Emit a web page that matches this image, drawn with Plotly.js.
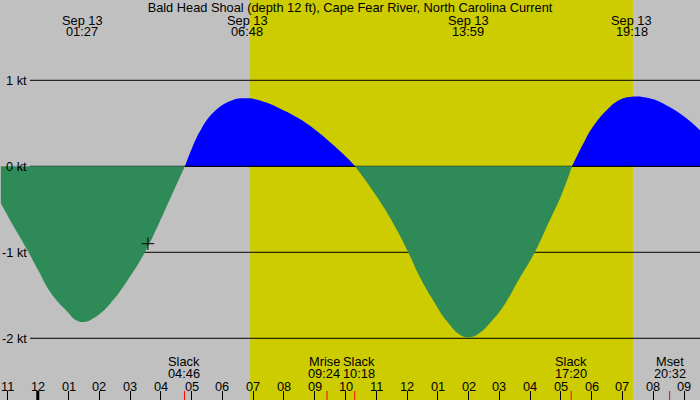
<!DOCTYPE html>
<html>
<head>
<meta charset="utf-8">
<script src="https://cdn.plot.ly/plotly-3.0.1.min.js"></script>
<style>html,body{margin:0;padding:0;background:#c0c0c0;}#chart{width:700px;height:400px;}</style>
</head>
<body>
<div id="chart"></div>
<script>
// Hours relative to midnight Sep 13 (negative = Sep 12), current in knots
const hours = [-1.20,-0.77,-0.33,0.00,0.42,0.96,1.25,1.50,1.75,2.04,2.37,2.91,3.45,3.88,4.31,4.78,
  5.02,5.29,5.72,6.26,6.80,7.34,7.88,8.42,8.96,9.50,10.05,10.31,
  10.80,11.23,11.67,12.04,12.42,12.85,13.29,13.72,13.98,14.31,14.75,15.18,15.61,16.15,16.58,17.02,17.36,
  17.72,18.04,18.48,18.90,19.30,19.88,20.42,20.96,21.52];
const knots = [-0.43,-0.71,-0.98,-1.20,-1.47,-1.69,-1.79,-1.81,-1.78,-1.71,-1.59,-1.33,-1.02,-0.71,-0.37,0,
  0.22,0.42,0.63,0.76,0.79,0.75,0.67,0.57,0.44,0.28,0.10,0,
  -0.24,-0.47,-0.74,-1.00,-1.29,-1.56,-1.80,-1.96,-1.99,-1.95,-1.80,-1.60,-1.33,-1.00,-0.67,-0.33,0,
  0.26,0.46,0.65,0.77,0.81,0.79,0.71,0.59,0.42];

const maxHours = [1.45, 6.80, 13.983, 19.30];
const maxDates = ["Sep 13","Sep 13","Sep 13","Sep 13"];
const maxTimes = ["01:27","06:48","13:59","19:18"];

const eventHours = [4.767, 9.40, 10.30, 17.333, 20.533];
const eventNames = ["Slack","Mrise","Slack","Slack","Mset"];
const eventTimes = ["04:46","09:24","10:18","17:20","20:32"];

const tickHours = [-1,0,1,2,3,4,5,6,7,8,9,10,11,12,13,14,15,16,17,18,19,20,21];
const tickLabels = ["11","12","01","02","03","04","05","06","07","08","09","10","11","12","01","02","03","04","05","06","07","08","09"];

const yTicks = [1,0,-1,-2];
const yLabels = ["1 kt","0 kt","-1 kt","-2 kt"];

const sunrise = 6.90, sunset = 19.34;
const nowHour = [3.58], nowKnots = [-0.90];

const W = 700, H = 400;
const FONT = "Liberation Sans, Arial, sans-serif";
const FS = 12.8;
const py = p => 1 - p / H;

// split curve into ebb/flood lobes
const segs = [];
let cur = {x: [], y: [], sign: 0};
for (let i = 0; i < hours.length; i++) {
  const v = knots[i], s = Math.sign(v);
  if (s === 0) {
    cur.x.push(hours[i]); cur.y.push(0);
    if (cur.sign !== 0) { segs.push(cur); cur = {x: [hours[i]], y: [0], sign: 0}; }
  } else {
    if (cur.sign === 0) cur.sign = s;
    cur.x.push(hours[i]); cur.y.push(v);
  }
}
if (cur.x.length > 1) segs.push(cur);

const traces = segs.map(s => ({
  x: s.x, y: s.y, type: 'scatter', mode: 'lines',
  line: {width: 0, shape: 'spline', smoothing: 1.3},
  fill: 'tozeroy', fillcolor: s.sign < 0 ? '#2e8b57' : '#0000ff',
  hoverinfo: 'skip', showlegend: false
}));

// zero line visible under flood lobes
const zx = [], zy = [];
segs.filter(s => s.sign > 0).forEach(s => { zx.push(s.x[0], s.x[s.x.length - 1], null); zy.push(0, 0, null); });
traces.push({x: zx, y: zy, type: 'scatter', mode: 'lines', line: {color: '#000', width: 1}, hoverinfo: 'skip', showlegend: false});

traces.push({x: nowHour, y: nowKnots, type: 'scatter', mode: 'markers',
  marker: {symbol: 'cross-thin', size: 9, line: {color: '#000', width: 1}, color: '#000'},
  hoverinfo: 'skip', showlegend: false});

const shapes = [];
shapes.push({type: 'rect', xref: 'x', yref: 'paper', x0: sunrise, x1: sunset, y0: 0, y1: 1,
  fillcolor: '#cccc00', line: {width: 0}, layer: 'below'});
yTicks.forEach(v => shapes.push({type: 'line', xref: 'paper', yref: 'y', x0: 30 / W, x1: 1, y0: v, y1: v,
  line: {color: '#000', width: 1}, layer: 'below'}));
// midnight heavy tick
shapes.push({type: 'line', xref: 'x', yref: 'paper', x0: 0, x1: 0, y0: 0, y1: py(391),
  line: {color: '#000', width: 3}});
eventHours.forEach(h => shapes.push({type: 'line', xref: 'x', yref: 'paper', x0: h, x1: h, y0: 0, y1: py(391),
  line: {color: '#ff0000', width: 1}}));

const ann = [];
const tf = {family: FONT, size: FS, color: '#000'};
maxHours.forEach((h, i) => {
  ann.push({x: h, y: py(20), xref: 'x', yref: 'paper', text: maxDates[i], showarrow: false, font: tf, xanchor: 'center', yanchor: 'middle'});
  ann.push({x: h, y: py(31.5), xref: 'x', yref: 'paper', text: maxTimes[i], showarrow: false, font: tf, xanchor: 'center', yanchor: 'middle'});
});
const eventShift = [0, -3, 4, 0, 0];
eventHours.forEach((h, i) => {
  ann.push({x: h, y: py(361.5), xref: 'x', yref: 'paper', text: eventNames[i], showarrow: false, font: tf, xanchor: 'center', yanchor: 'middle', xshift: eventShift[i]});
  ann.push({x: h, y: py(373.5), xref: 'x', yref: 'paper', text: eventTimes[i], showarrow: false, font: tf, xanchor: 'center', yanchor: 'middle', xshift: eventShift[i]});
});
tickHours.forEach((h, i) => {
  ann.push({x: h, y: py(386), xref: 'x', yref: 'paper', text: tickLabels[i], showarrow: false, font: tf, xanchor: 'center', yanchor: 'middle'});
});
yTicks.forEach((v, i) => {
  ann.push({x: 28.5 / W, y: v, xref: 'paper', yref: 'y', text: yLabels[i], showarrow: false, font: tf, xanchor: 'right', yanchor: 'middle'});
});

const layout = {
  width: W, height: H,
  margin: {l: 0, r: 0, t: 0, b: 0, pad: 0},
  paper_bgcolor: '#c0c0c0', plot_bgcolor: '#c0c0c0',
  title: {text: 'Bald Head Shoal (depth 12 ft), Cape Fear River, North Carolina Current',
    font: {family: FONT, size: FS, color: '#000'}, x: 0.5, xanchor: 'center', y: 1 - 7.5 / H, yanchor: 'middle', yref: 'container'},
  xaxis: {range: [-1.228, 21.52], showgrid: false, zeroline: false, showline: false,
    tickmode: 'array', tickvals: tickHours, ticktext: tickLabels, showticklabels: false,
    ticks: 'inside', ticklen: 9, tickwidth: 1, tickcolor: '#000', fixedrange: true},
  yaxis: {range: [(166.3 - 400) / 86, 166.3 / 86], showgrid: false, zeroline: false, showline: false,
    showticklabels: false, ticks: '', fixedrange: true},
  shapes: shapes, annotations: ann, showlegend: false, hovermode: false
};

Plotly.newPlot('chart', traces, layout, {displayModeBar: false, staticPlot: true});
</script>
</body>
</html>
